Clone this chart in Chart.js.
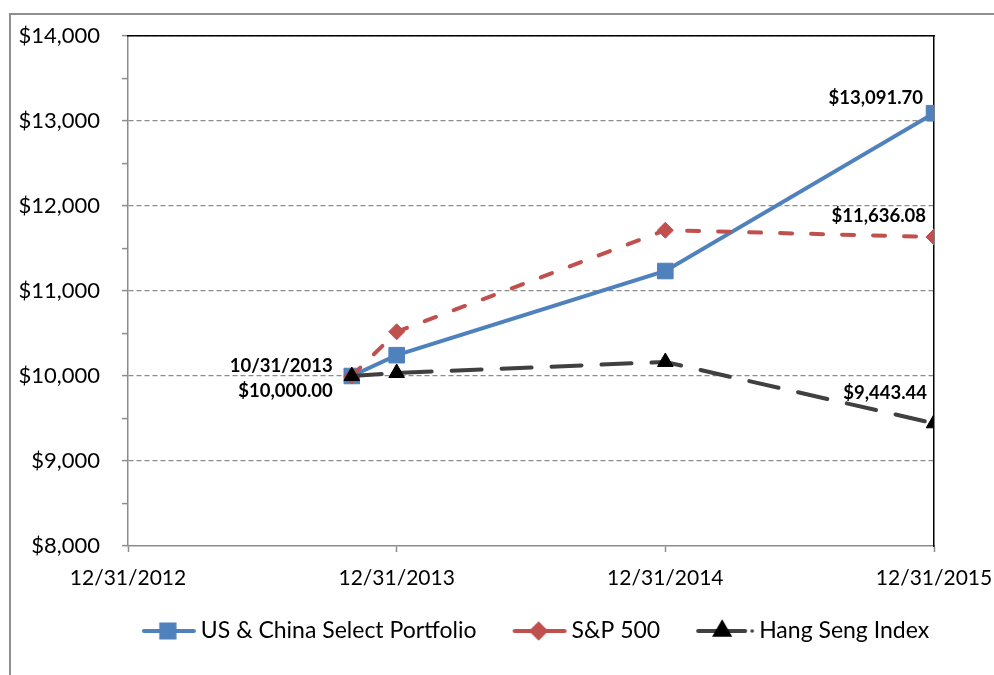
<!DOCTYPE html>
<html>
<head>
<meta charset="utf-8">
<title>Growth of $10,000</title>
<script src="https://cdn.jsdelivr.net/npm/chart.js@4.4.0/dist/chart.umd.min.js"></script>
<style>
  html, body { margin: 0; padding: 0; background: #fff; }
  #frame { position: absolute; left: 9px; top: 13px; width: 1000px; height: 700px;
           border-left: 2px solid #8f8f8f; border-top: 2px solid #8f8f8f; }
  #wrap { position: absolute; left: 0; top: 0; width: 994px; height: 675px; }
</style>
</head>
<body>
<div id="frame"></div>
<div id="wrap"><canvas id="growthChart" width="994" height="675"></canvas></div>
<script>
// ---- data ----
const startDate = '12/31/2012';
const pointDates = ['10/31/2013', '12/31/2013', '12/31/2014', '12/31/2015'];
const tickDates = ['12/31/2012', '12/31/2013', '12/31/2014', '12/31/2015'];
const seriesNames = ['US & China Select Portfolio', 'S&P 500', 'Hang Seng Index'];
const portfolioValues = [10000, 10245, 11235, 13091.70];
const sp500Values = [10000, 10520, 11715, 11636.08];
const hangSengValues = [10000, 10035, 10165, 9443.44];
const yMin = 8000, yMax = 14000, yMajor = 1000, yMinor = 500;

// ---- helpers ----
function toDays(s) {
  const [m, d, y] = s.split('/').map(Number);
  const [m0, d0, y0] = startDate.split('/').map(Number);
  return Math.round((Date.UTC(y, m - 1, d) - Date.UTC(y0, m0 - 1, d0)) / 86400000);
}
function money(v, dec) {
  return '$' + v.toLocaleString('en-US', { minimumFractionDigits: dec, maximumFractionDigits: dec });
}
function series(values) {
  return pointDates.map((d, i) => ({ x: toDays(d), y: values[i] }));
}
const tickDays = tickDates.map(toDays);

const FONT = 'Lato';
const colors = ['#4F81BD', '#C0504D', '#404040'];
const markerFill = ['#4F81BD', '#C0504D', '#000000'];
const markers = ['rect', 'rectRot', 'triangle'];
const markerSize = [11, 8, 9];

// legend swatch: short line with the marker on it, like the spreadsheet legend
function swatch(i) {
  const c = document.createElement('canvas');
  c.width = i === 2 ? 60 : 56; c.height = 24;
  const g = c.getContext('2d');
  g.lineCap = 'round';
  g.lineWidth = 4;
  g.strokeStyle = colors[i];
  g.beginPath(); g.moveTo(3, 12); g.lineTo(i === 2 ? 50 : 53, 12); g.stroke();
  g.fillStyle = markerFill[i];
  g.strokeStyle = markerFill[i];
  Chart.helpers.drawPoint(g, { pointStyle: markers[i], radius: markerSize[i] * 0.85, rotation: 0, borderWidth: 1 }, 27, 12);
  if (i === 2) { g.fillStyle = '#404040'; g.beginPath(); g.arc(57, 12, 1.8, 0, Math.PI * 2); g.fill(); }
  return c;
}

const legendBar = {
  id: 'legendBar',
  afterDraw(chart) {
    const ctx = chart.ctx;
    const area = chart.chartArea;
    ctx.save();
    ctx.font = '23px ' + FONT;
    ctx.fillStyle = '#000';
    ctx.textBaseline = 'middle';
    const sw = seriesNames.map((_, i) => swatch(i));
    const gap = 4, between = 35;
    const widths = seriesNames.map((n, i) => sw[i].width + gap + ctx.measureText(n).width);
    const total = widths.reduce((a, b) => a + b, 0) + between * (seriesNames.length - 1);
    const cy = area.bottom + 85;
    let x = (area.left + area.right) / 2 + 4 - total / 2;
    seriesNames.forEach((n, i) => {
      ctx.drawImage(sw[i], x, cy - sw[i].height / 2);
      ctx.fillText(n, x + sw[i].width + gap, cy);
      x += widths[i] + between;
    });
    ctx.restore();
  }
};

// value labels drawn next to the points
const valueLabels = {
  id: 'valueLabels',
  afterDatasetsDraw(chart) {
    const ctx = chart.ctx;
    const last = pointDates.length - 1;
    const offsets = [[-11, -9], [-8, -15], [-7, -24]];
    ctx.save();
    ctx.font = 'bold 18.5px ' + FONT;
    ctx.fillStyle = '#000';
    ctx.textAlign = 'right';
    ctx.textBaseline = 'alphabetic';
    chart.data.datasets.forEach((ds, i) => {
      const pt = chart.getDatasetMeta(i).data[last];
      ctx.fillText(money(ds.data[last].y, 2), pt.x + offsets[i][0], pt.y + offsets[i][1]);
    });
    const p0 = chart.getDatasetMeta(0).data[0];
    ctx.fillText(pointDates[0], p0.x - 19, p0.y - 4);
    ctx.fillText(money(chart.data.datasets[0].data[0].y, 2), p0.x - 19, p0.y + 21);
    ctx.restore();
  }
};

const allValues = [portfolioValues, sp500Values, hangSengValues];
const dashes = [[], [12, 19], [30, 20]];

new Chart(document.getElementById('growthChart'), {
  type: 'line',
  data: {
    datasets: allValues.map((vals, i) => ({
      label: seriesNames[i],
      data: series(vals),
      borderColor: colors[i],
      backgroundColor: markerFill[i],
      borderWidth: 4,
      borderDash: dashes[i],
      borderCapStyle: 'round',
      tension: 0,
      pointStyle: markers[i],
      pointRadius: markerSize[i],
      pointHoverRadius: markerSize[i],
      pointBorderColor: markerFill[i],
      pointBackgroundColor: markerFill[i],
      pointBorderWidth: 1,
      order: 3 - i
    }))
  },
  options: {
    responsive: false,
    animation: false,
    layout: { padding: { left: 17, right: 60, top: 36, bottom: 89 } },
    plugins: {
      tooltip: { enabled: false },
      legend: { display: false }
    },
    scales: {
      x: {
        type: 'linear',
        min: tickDays[0],
        max: tickDays[tickDays.length - 1],
        afterBuildTicks: (ax) => { ax.ticks = tickDays.map(v => ({ value: v })); },
        afterFit: (ax) => { ax.height = 40; ax.paddingLeft = 0; ax.paddingRight = 0; },
        ticks: {
          autoSkip: false, maxRotation: 0, padding: 14, color: '#000',
          font: { family: FONT, size: 21 },
          callback: (v) => tickDates[tickDays.indexOf(v)]
        },
        grid: { drawOnChartArea: false, tickLength: 6, tickColor: '#8c8c8c', tickWidth: 1.5 },
        border: { color: '#8c8c8c', width: 1.5 }
      },
      y: {
        min: yMin, max: yMax,
        afterFit: (ax) => { ax.width = 111; },
        ticks: {
          stepSize: yMinor, autoSkip: false, padding: 22, color: '#000',
          font: { family: FONT, size: 22 },
          callback: (v) => (v % yMajor === 0 ? money(v, 0) : '')
        },
        grid: {
          color: (c) => (c.tick && c.tick.value % yMajor === 0 && c.tick.value !== yMin ? '#8c8c8c' : 'rgba(0,0,0,0)'),
          lineWidth: 1.2,
          tickLength: 6, tickColor: '#8c8c8c', tickWidth: 1.5
        },
        border: { color: '#8c8c8c', width: 1.5, dash: [5, 3] }
      },
      xTop: {
        type: 'linear', position: 'top', display: true,
        afterFit: (ax) => { ax.height = 0; },
        ticks: { display: false }, grid: { display: false, drawTicks: false },
        border: { color: '#000', width: 1.5 }
      },
      yRight: {
        type: 'linear', position: 'right', display: true,
        afterFit: (ax) => { ax.width = 0; },
        ticks: { display: false }, grid: { display: false, drawTicks: false },
        border: { color: '#000', width: 1.5 }
      }
    }
  },
  plugins: [valueLabels, legendBar]
});
</script>
</body>
</html>
